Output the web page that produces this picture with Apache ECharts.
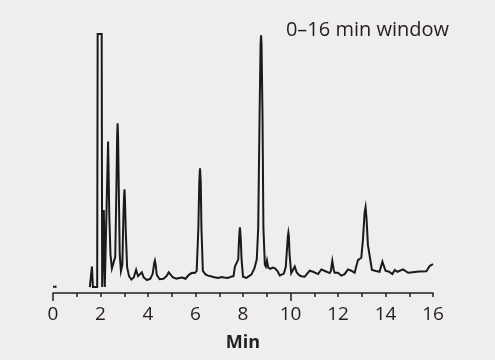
<!DOCTYPE html>
<html>
<head>
<meta charset="utf-8">
<script src="https://cdn.jsdelivr.net/npm/echarts@6/dist/echarts.min.js"></script>
<style>
html,body{margin:0;padding:0;background:#eeeeee;}
#c{width:495px;height:360px;}
</style>
</head>
<body>
<div id="c"></div>
<script>
const titleText = '0\u201316 min window';
const axisName = 'Min';
const xLabelValues = [0, 2, 4, 6, 8, 10, 12, 14, 16];
const xLongTicks = [0, 10];

// retention time (min) and detector signal (% of full scale); null = gap in trace
const times = [
  0, 0.15, 0.8,
  1.55, 1.60, 1.64, 1.68, 1.86, 1.88, 2.05, 2.07, 2.10, 2.14, 2.18, 2.24,
  2.32, 2.37, 2.42, 2.48, 2.55, 2.62, 2.67, 2.70, 2.72, 2.74, 2.77, 2.81, 2.86, 2.92,
  2.96, 2.99, 3.01, 3.03, 3.06, 3.12, 3.2, 3.3, 3.4, 3.5, 3.58, 3.65, 3.74, 3.82, 3.96,
  4.1, 4.2, 4.26, 4.29, 4.32, 4.37, 4.49, 4.65, 4.78, 4.87, 4.96, 5.05, 5.2, 5.3, 5.44,
  5.58, 5.72, 5.85, 5.97, 6.05, 6.12, 6.16, 6.19, 6.22, 6.25, 6.31, 6.42, 6.53, 6.64,
  6.74, 6.85, 6.95, 7.1, 7.2, 7.37, 7.5, 7.6, 7.66, 7.74, 7.8, 7.84, 7.87, 7.9, 7.94,
  8.0, 8.14, 8.25, 8.35, 8.48, 8.58, 8.64, 8.7, 8.74, 8.76, 8.78, 8.82, 8.86, 8.92,
  8.96, 9.01, 9.06, 9.15, 9.25, 9.35, 9.45, 9.55, 9.62, 9.72, 9.8, 9.86,
  9.89, 9.91, 9.93, 9.96, 10.03, 10.1, 10.18, 10.26, 10.35, 10.45, 10.6, 10.67, 10.81,
  10.95, 11.02, 11.16, 11.3, 11.45, 11.65, 11.7, 11.76, 11.82, 11.86, 12.0,
  12.14, 12.28, 12.42, 12.56, 12.7, 12.84, 12.98, 13.05, 13.12, 13.16, 13.2,
  13.26, 13.33, 13.43, 13.6, 13.75, 13.87, 14.0, 14.15, 14.29, 14.39, 14.5,
  14.74, 14.95, 15.15, 15.4, 15.72, 15.86, 16.0
];
const signal = [
  2.4, 2.4, null,
  2.3, 2.5, 10.2, 2.3, 2.3, 100, 100, 2.3, 2.3, 32, 2.3, 2.3,
  58.5, 30, 15, 9.5, 9, 14, 40, 60, 65.5, 60, 40, 15, 8.5, 11,
  28, 37, 40, 36, 25, 10, 6.5, 5.2, 6.0, 9.0, 6.5, 6.0, 8.0, 6.0, 5.0,
  5.5, 7.5, 11.5, 12.5, 11, 7.0, 5.3, 5.5, 6.5, 8.0, 7.0, 6.0, 5.5, 5.8, 6.0,
  5.5, 7.0, 7.8, 7.7, 8.5, 25, 43, 48.1, 43, 25, 8.5, 7.2, 6.7, 6.5,
  6.2, 6.0, 5.8, 6.2, 6.0, 5.8, 6.3, 6.5, 10.2, 10.5, 13, 22, 25.4, 22, 13,
  6.3, 5.8, 6.5, 7.1, 9.5, 13, 25, 70, 96, 99.5, 96, 70, 25, 11,
  10.2, 12.5, 9.8, 9.3, 9.8, 9.5, 8.5, 6.8, 6.3, 7.5, 10, 18,
  22, 23.3, 22, 15, 7.7, 8.2, 10.2, 8.0, 7.0, 6.5, 6.3, 6.3, 8.6,
  8.2, 8.6, 7.3, 9.1, 8.5, 7.7, 8.5, 12.4, 9, 7.8, 7.8,
  6.7, 7.3, 9.1, 8.6, 7.8, 12.7, 13.6, 20.5, 31, 33.1, 29,
  18.5, 18, 8.9, 8.5, 8.2, 12.1, 8.6, 8.2, 7.3, 8.9, 8.2,
  9.1, 7.8, 8.0, 8.3, 8.4, 10.4, 11.2
];

const data = times.map((t, i) => [t, signal[i] === null ? '-' : signal[i]]);
const FONT = '"Open Sans", "Liberation Sans", sans-serif';

const chart = echarts.init(document.getElementById('c'), null, {renderer: 'canvas'});
chart.setOption({
  backgroundColor: '#eeeeee',
  animation: false,
  title: {
    text: titleText,
    right: 41,
    top: 15,
    textStyle: {fontFamily: FONT, fontSize: 20, fontWeight: 'normal', color: '#231f20'}
  },
  grid: {left: 53, right: 62, top: 34, bottom: 67},
  xAxis: [{
    type: 'value',
    min: 0, max: 16, interval: 1,
    axisLine: {lineStyle: {color: '#231f20', width: 1.5}},
    axisTick: {show: true, length: 4, lineStyle: {color: '#231f20', width: 1.5}},
    axisLabel: {
      customValues: xLabelValues,
      margin: 12,
      fontFamily: FONT, fontSize: 19, color: '#231f20'
    },
    splitLine: {show: false},
    name: axisName,
    nameLocation: 'middle',
    nameGap: 41,
    nameTextStyle: {fontFamily: FONT, fontSize: 18, fontWeight: 'bold', color: '#231f20'}
  }, {
    type: 'value',
    position: 'bottom',
    min: 0, max: 16, interval: 1,
    axisLine: {show: false},
    axisTick: {show: true, length: 8, customValues: xLongTicks, lineStyle: {color: '#231f20', width: 1.5}},
    axisLabel: {show: false},
    splitLine: {show: false}
  }],
  yAxis: {
    type: 'value', min: 0, max: 100, show: false
  },
  series: [{
    type: 'line',
    data: data,
    showSymbol: false,
    connectNulls: false,
    lineStyle: {color: '#1a1a1a', width: 2, join: 'miter'},
    clip: false
  }]
});
</script>
</body>
</html>
